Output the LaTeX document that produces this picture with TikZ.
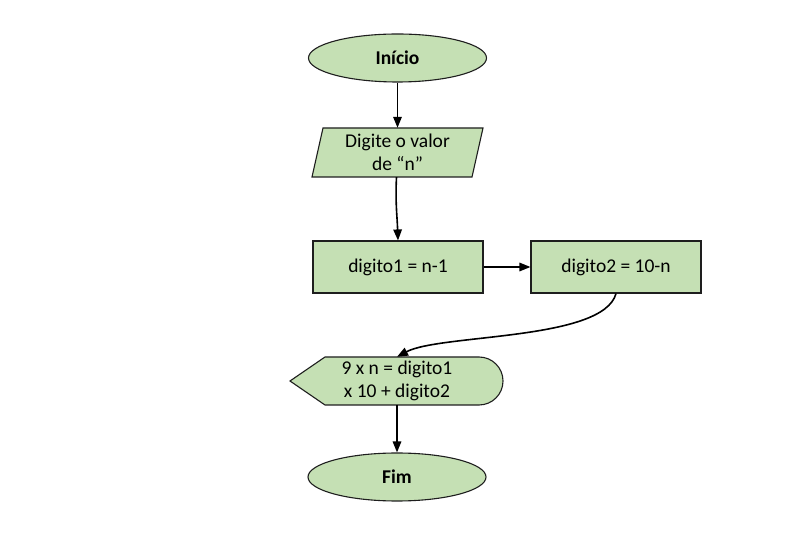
\documentclass[tikz,border=0pt]{standalone}
\usepackage{fontspec}
\setmainfont{Carlito}
\usetikzlibrary{arrows.meta,shapes.geometric}
\definecolor{boxfill}{RGB}{197,224,180}
\definecolor{boxline}{RGB}{30,30,30}
\tikzset{
  shapeline/.style={draw=boxline, line width=1.1pt, fill=boxfill},
  term/.style={ellipse, shapeline, minimum width=178pt, minimum height=48pt, inner sep=0pt, font=\fontsize{19.5}{23.5}\selectfont\bfseries},
  procbox/.style={rectangle, shapeline, minimum width=170pt, minimum height=52pt, inner sep=0pt},
  ghost/.style={inner sep=0pt, align=center},
  conn/.style={draw=black, line width=1.6pt, -{Triangle[length=11pt,width=8.5pt]}},
}
\begin{document}
\begin{tikzpicture}[x=1pt,y=1pt,font=\fontsize{19.5}{23.5}\selectfont]
\useasboundingbox[fill=white] (0,0) rectangle (811,535);
% Inicio
\node[term] (ini) at (397.5,477) {Início};
% input parallelogram
\filldraw[shapeline] (323,407) -- (483,407) -- (472,358) -- (312,358) -- cycle;
\node[ghost, minimum width=160pt, minimum height=49pt] (inp) at (397.5,382.5) {Digite o valor\\de “n”};
% process boxes
\node[procbox] (b1) at (398,268) {digito1 = n-1};
\node[procbox] (b2) at (616,268) {digito2 = 10-n};
% display shape
\filldraw[shapeline] (290,154) -- (325,178) -- (479,178) arc[start angle=90, end angle=-90, radius=24] -- (325,130) -- cycle;
\node[ghost, minimum width=150pt, minimum height=48pt] (disp) at (397,154) {9 x n = digito1\\x 10 + digito2};
% Fim
\node[term] (fim) at (397,58) {Fim};
% connectors
\draw[conn] (ini.south) -- (inp.north);
\draw[conn] ([xshift=-1pt]inp.south) to[out=-93,in=92] (b1.north);
\draw[conn] (b1.east) -- (b2.west);
\draw[conn] (b2.south) to[out=-105,in=28,looseness=0.55] (disp.north);
\draw[conn] (disp.south) -- (fim.north);
\end{tikzpicture}
\end{document}
